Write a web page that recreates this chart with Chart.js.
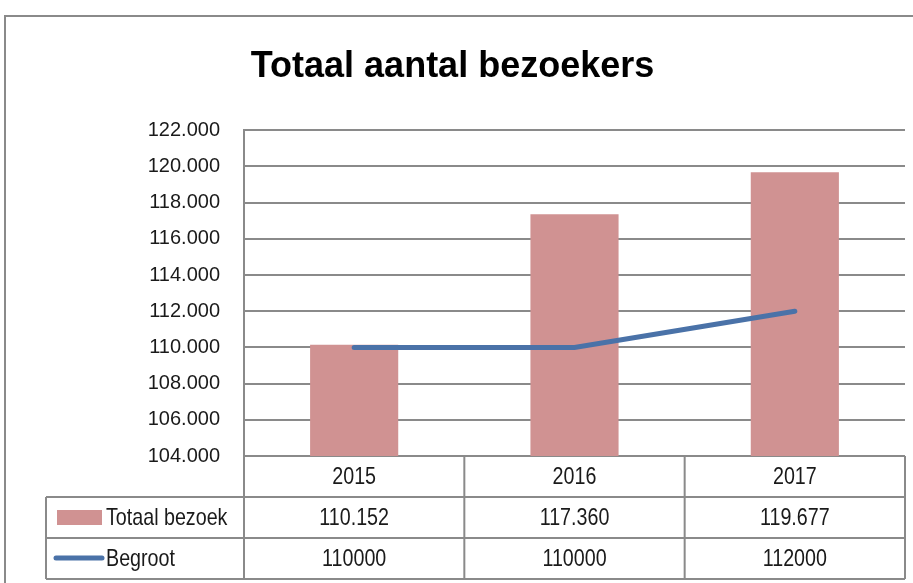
<!DOCTYPE html>
<html>
<head>
<meta charset="utf-8">
<script src="https://cdn.jsdelivr.net/npm/chart.js@4.4.1/dist/chart.umd.min.js"></script>
<style>
  html, body { margin: 0; padding: 0; background: #fff; }
  #wrap { position: relative; width: 913px; height: 583px; }
</style>
</head>
<body>
<div id="wrap"><canvas id="chart"></canvas></div>
<script>
const years = ['2015', '2016', '2017'];
const totaalBezoek = [110152, 117360, 119677];
const begroot = [110000, 110000, 112000];
const yMin = 104000;
const yMax = 122000;
const yStep = 2000;

const GRID = '#8a8a8a';
const TEXT = '#1a1a1a';
const SANS = '"Liberation Sans", Arial, sans-serif';

// dutch style thousands separator: 110152 -> 110.152
function dots(v) {
    return String(v).replace(/\B(?=(\d{3})+(?!\d))/g, '.');
}

// the original uses a narrow face, squeeze the text a bit
function narrowText(ctx, txt, x, y, align) {
    ctx.save();
    ctx.translate(x, y);
    ctx.scale(0.82, 1);
    ctx.textAlign = align;
    ctx.fillText(txt, 0, 0);
    ctx.restore();
}

// frame + data table below the plot, positioned off the x scale
const tablePlugin = {
    id: 'dataTable',
    beforeDraw(chart) {
        const ctx = chart.ctx;
        ctx.save();
        ctx.strokeStyle = GRID;
        ctx.lineWidth = 2;
        ctx.beginPath();
        ctx.moveTo(5, chart.height);
        ctx.lineTo(5, 16);
        ctx.lineTo(chart.width, 16);
        ctx.stroke();
        ctx.restore();
    },
    afterDraw(chart) {
        const ctx = chart.ctx;
        const area = chart.chartArea;
        const x = chart.scales.x;
        const half = (area.right - area.left) / years.length / 2;
        const rowH = 41;
        const top = area.bottom;
        const r1 = top + rowH, r2 = r1 + rowH, r3 = r2 + rowH;
        const leftCol = 46;

        ctx.save();
        ctx.strokeStyle = GRID;
        ctx.lineWidth = 2;
        ctx.beginPath();
        // horizontal rules
        [r1, r2, r3].forEach(y => {
            ctx.moveTo(leftCol, y);
            ctx.lineTo(area.right, y);
        });
        // verticals at category edges
        years.forEach((_, i) => {
            const c = x.getPixelForValue(i);
            ctx.moveTo(c - half, top);
            ctx.lineTo(c - half, r3);
        });
        ctx.moveTo(area.right, top);
        ctx.lineTo(area.right, r3);
        ctx.moveTo(leftCol, r1);
        ctx.lineTo(leftCol, r3);
        ctx.stroke();

        // legend keys
        ctx.fillStyle = '#d09292';
        ctx.fillRect(57, r1 + 13, 45, 15);
        ctx.strokeStyle = '#4a72a8';
        ctx.lineWidth = 5;
        ctx.lineCap = 'round';
        ctx.beginPath();
        ctx.moveTo(56, r2 + 20);
        ctx.lineTo(102, r2 + 20);
        ctx.stroke();

        ctx.fillStyle = TEXT;
        ctx.font = '24px ' + SANS;
        ctx.textBaseline = 'middle';
        narrowText(ctx, 'Totaal bezoek', 106, r1 + 21, 'left');
        narrowText(ctx, 'Begroot', 106, r2 + 21, 'left');

        years.forEach((yr, i) => {
            const c = x.getPixelForValue(i);
            narrowText(ctx, yr, c, top + 21, 'center');
            narrowText(ctx, dots(totaalBezoek[i]), c, r1 + 21, 'center');
            narrowText(ctx, String(begroot[i]), c, r2 + 21, 'center');
        });
        ctx.restore();
    }
};

new Chart(document.getElementById('chart'), {
    data: {
        labels: years,
        datasets: [{
            type: 'line',
            label: 'Begroot',
            data: begroot,
            borderColor: '#4a72a8',
            borderWidth: 5,
            borderCapStyle: 'round',
            pointRadius: 0,
            tension: 0,
            fill: false,
            order: 0
        }, {
            type: 'bar',
            label: 'Totaal bezoek',
            data: totaalBezoek,
            backgroundColor: '#d09292',
            barPercentage: 0.4,
            categoryPercentage: 1,
            order: 1
        }]
    },
    options: {
        responsive: true,
        maintainAspectRatio: false,
        animation: false,
        layout: { padding: { left: 0, right: 8, top: 0, bottom: 0 } },
        plugins: {
            legend: { display: false },
            tooltip: { enabled: false },
            title: {
                display: true,
                text: 'Totaal aantal bezoekers',
                color: '#000',
                font: { family: SANS, size: 36, weight: 'bold' },
                padding: { top: 45, bottom: 42 }
            }
        },
        scales: {
            x: {
                type: 'category',
                grid: { display: false },
                border: { display: false },
                ticks: { display: false },
                afterFit(scale) { scale.height = 127; }
            },
            y: {
                min: yMin,
                max: yMax,
                grid: { color: GRID, lineWidth: 2, drawTicks: false },
                border: { display: true, color: GRID, width: 2 },
                ticks: {
                    stepSize: yStep,
                    padding: 24,
                    color: TEXT,
                    font: { family: SANS, size: 20 },
                    callback: v => dots(v)
                },
                afterFit(scale) { scale.width = 244; }
            }
        }
    },
    plugins: [tablePlugin]
});
</script>
</body>
</html>
